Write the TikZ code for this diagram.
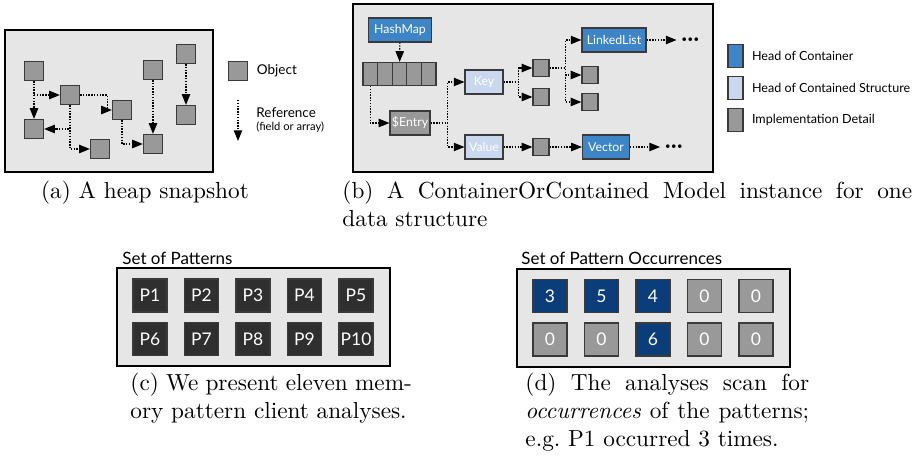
\documentclass[tikz,border=0pt]{standalone}
\usepackage{fontspec}
\newfontfamily\gill{Lato}
\usetikzlibrary{arrows.meta,positioning}

\definecolor{panelgray}{HTML}{E6E6E6}
\definecolor{objgray}{HTML}{999999}
\definecolor{edgegray}{HTML}{3A3A3A}
\definecolor{contblue}{HTML}{3D85C6}
\definecolor{contdblue}{HTML}{CAD8EF}
\definecolor{patdark}{HTML}{2F2F2F}
\definecolor{occblue}{HTML}{0A3D7A}

\tikzset{
  panel/.style={draw=black,line width=0.7pt,fill=panelgray},
  refline/.style={dash pattern=on 0.6pt off 0.6pt,line width=0.5pt,
    -{Triangle[length=4.6pt,width=3.6pt]}},
  heapobj/.style={draw=edgegray,line width=0.5pt,fill=objgray,inner sep=0pt,
    minimum width=8.2pt,minimum height=8.2pt},
  arrcell/.style={heapobj,minimum width=6.3pt,minimum height=9.9pt},
  smallobj/.style={heapobj,minimum width=6.9pt,minimum height=7.1pt},
  modelbox/.style={draw=edgegray,line width=0.5pt,inner sep=0pt,text=white,
    minimum height=10.3pt,font=\gill\fontsize{5.3}{6}\selectfont},
  contbox/.style={modelbox,fill=contblue},
  contdbox/.style={modelbox,fill=contdblue},
  implbox/.style={modelbox,fill=objgray},
  legswatch/.style={draw=edgegray,line width=0.5pt,inner sep=0pt,
    minimum width=6.5pt,minimum height=9.9pt},
  legtext/.style={font=\gill\fontsize{5.8}{7}\selectfont,inner sep=0pt},
  legbtext/.style={font=\gill\fontsize{5.4}{7}\selectfont,inner sep=0pt},
  legsmall/.style={font=\gill\fontsize{4.8}{6}\selectfont,inner sep=0pt},
  dotsnode/.style={font=\bfseries,inner sep=1.5pt},
  pattitle/.style={font=\gill\fontsize{7.3}{9}\selectfont,inner sep=0pt,anchor=base west},
  patbox/.style={draw=edgegray,line width=0.5pt,inner sep=0pt,text=white,
    minimum width=14.6pt,minimum height=14.2pt,font=\gill\fontsize{7.5}{9}\selectfont},
  caption/.style={inner sep=0pt,font=\fontsize{10}{12.2}\selectfont}
}

\begin{document}
\begin{tikzpicture}[x=0.43pt,y=-0.43pt]
\useasboundingbox (0,0) rectangle (921,464);

% (a) heap snapshot
\draw[panel] (5,30) rectangle (213,172);
\node[heapobj] (o1) at (34,71) {};
\node[heapobj] (o2) at (70,95) {};
\node[heapobj] (o3) at (122,110) {};
\node[heapobj] (o4) at (34,129) {};
\node[heapobj] (o5) at (100,149) {};
\node[heapobj] (o6) at (153,70) {};
\node[heapobj] (o7) at (153,144) {};
\node[heapobj] (o8) at (186,54) {};
\node[heapobj] (o9) at (186,115) {};

\draw[refline] (o1) -- (o4);
\draw[refline] (o1.south) |- (o2.west);
\draw[refline] (o2.east) -- ++(27,0) |- (o3.west);
\draw[refline] (o2.south) |- (o4.east);
\draw[refline] (o2.south) |- (o5.west);
\draw[refline] (o3.south) |- (o7.west);
\draw[refline] (o6) -- (o7);
\draw[refline] (o8) -- (o9);

% legend of (a)
\node[heapobj] (lobj) at (238,71) {};
\node[legtext,right=3.6pt of lobj] (lobjtext) {Object};
\coordinate (lrefa) at (238,100);
\coordinate (lrefb) at (238,141);
\draw[refline] (lrefa) -- (lrefb);
\node[legtext,anchor=base west] (lreftext) at (256,117) {Reference};
\node[legsmall,anchor=base west] (lrefsub) at (256,131) {(field or array)};

% (b) model instance
\draw[panel] (353,4) rectangle (713,172);
\node[contbox,minimum width=27.1pt] (hashmap) at (400,30) {HashMap};
\foreach \i in {1,...,5}
  \node[arrcell] (c\i) at ({363+14.6*(\i-0.5)},74) {};
\node[implbox,minimum width=17.2pt] (entry) at (410,123) {\$Entry};
\node[contdbox,minimum width=16.3pt] (key) at (484,82) {Key};
\node[contdbox,minimum width=16.3pt] (value) at (484,147) {Value};
\node[smallobj] (s1) at (541,68) {};
\node[smallobj] (s2) at (541,97) {};
\node[smallobj] (s3) at (590,75) {};
\node[smallobj] (s4) at (590,102) {};
\node[smallobj] (s5) at (541,147) {};
\node[contbox,minimum width=27.5pt] (linked) at (614,40) {LinkedList};
\node[contbox,minimum width=20.2pt] (vector) at (606,147) {Vector};

\draw[refline] (hashmap) -- (c3);
\draw[refline] (c1.south) |- (entry.west);
\draw[refline] (entry.east) -- ++(17,0) |- (key.west);
\draw[refline] (entry.east) -- ++(17,0) |- (value.west);
\draw[refline] (key.east) -- ++(15,0) |- (s1.west);
\draw[refline] (key.east) -- ++(15,0) |- (s2.west);
\draw[refline] (s1.east) -- ++(16,0) |- (linked.west);
\draw[refline] (s1.east) -- ++(16,0) |- (s3.west);
\draw[refline] (s1.east) -- ++(16,0) |- (s4.west);
\draw[refline] (value) -- (s5);
\draw[refline] (s5) -- (vector);
\draw[refline] (linked.east) -- ++(30,0) node[dotsnode,right] (lldots) {\dots};
\draw[refline] (vector.east) -- ++(30,0) node[dotsnode,right] (vecdots) {\dots};

% legend of (b)
\node[legswatch,fill=contblue] (lcont) at (735.5,56) {};
\node[legswatch,fill=contdblue] (lcontd) at (735.5,88) {};
\node[legswatch,fill=objgray] (limpl) at (735.5,120) {};
\node[legbtext,right=3.4pt of lcont] (lconttext) {Head of Container};
\node[legbtext,right=3.4pt of lcontd] (lcontdtext) {Head of Contained Structure};
\node[legbtext,right=3.4pt of limpl] (limpltext) {Implementation Detail};

% (c) set of patterns
\node[pattitle] (pattitle) at (122,264) {Set of Patterns};
\draw[panel] (117,268) rectangle (390,366);
\foreach \i in {1,...,10} {
  \pgfmathtruncatemacro{\col}{mod(\i-1,5)}
  \pgfmathtruncatemacro{\row}{(\i-1)/5}
  \node[patbox,fill=patdark] (p\i) at ({150+51.5*\col},{295.5+43.5*\row}) {P\i};
}

% (d) set of pattern occurrences
\node[pattitle] (occtitle) at (521,264) {Set of Pattern Occurrences};
\draw[panel] (517,269) rectangle (790,367);
\foreach \v [count=\i] in {3,5,4,0,0,0,0,6,0,0} {
  \pgfmathtruncatemacro{\col}{mod(\i-1,5)}
  \pgfmathtruncatemacro{\row}{(\i-1)/5}
  \ifnum\v=0 \def\occfill{objgray}\else\def\occfill{occblue}\fi
  \node[patbox,fill=\occfill] (n\i) at ({550+51.5*\col},{296+43.5*\row}) {\v};
}

% captions
\node[caption,anchor=base] (capa) at (145,198) {(a) A heap snapshot};
\node[caption,anchor=base west,text width=245pt,align=justify] (capb) at (342,198)
  {(b) A ContainerOrContained Model instance for one\linebreak data structure};
\node[caption,anchor=base west,text width=121pt,align=justify] (capc) at (130,390)
  {(c) We present eleven mem-\linebreak ory pattern client analyses.};
\node[caption,anchor=base west,text width=122pt,align=justify] (capd) at (525,390)
  {(d) The analyses scan for\linebreak \emph{occurrences} of the patterns;\linebreak e.g.\ P1 occurred 3 times.};
\end{tikzpicture}
\end{document}
